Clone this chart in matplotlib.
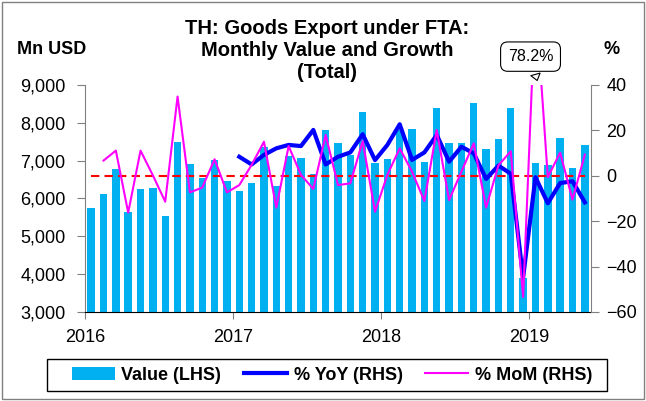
import numpy as np
import matplotlib
matplotlib.use("Agg")
import matplotlib.pyplot as plt
from matplotlib.patches import Rectangle

plt.rcParams['font.family'] = ['Liberation Sans', 'DejaVu Sans']

# Monthly data, Jan 2016 - May 2019
value_mn_usd = [5743, 6124, 6779, 5646, 6260, 6265, 5549, 7490, 6920, 6540, 7005, 6475,
                6190, 6416, 7355, 6319, 7115, 7062, 6640, 7805, 7462, 7160, 8274, 6929,
                7035, 7805, 7850, 6965, 8381, 7469, 7469, 8513, 7319, 7566, 8381, 3900,
                6947, 6894, 7602, 6814, 7425]
yoy_pct = [None] * 12 + [8.4, 5.0, 9.2, 12.1, 13.6, 13.1, 20.2, 5.0, 8.4, 10.3, 18.3, 6.9,
                         13.6, 22.7, 7.0, 10.3, 18.0, 6.2, 12.8, 9.9, -1.4, 4.5, 0.9, -44.8,
                         -0.6, -12.1, -3.2, -2.4, -11.7]
mom_pct = [None, 6.7, 11.1, -16.2, 11.1, 0.2, -11.4, 34.9, -7.3, -5.2, 7.3, -7.3,
           -4.1, 4.8, 15.0, -14.0, 13.1, 0.4, -5.8, 18.0, -4.1, -3.3, 15.3, -15.8,
           0.4, 12.1, 1.8, -11.1, 20.2, -10.7, 1.8, 14.3, -14.0, 4.6, 10.8, -53.4,
           78.2, -0.6, 10.2, -10.5, 9.3]
year_labels = ['2016', '2017', '2018', '2019']

n = len(value_mn_usd)
x = np.arange(n) + 0.5
yoy = np.array([np.nan if v is None else v for v in yoy_pct])
mom = np.array([np.nan if v is None else v for v in mom_pct])

W, H = 646, 401
fig = plt.figure(figsize=(W / 100, H / 100), dpi=100)
ax = fig.add_axes([85 / W, 1 - 312 / H, (591 - 85) / W, (312 - 85) / H])
ax2 = ax.twinx()

gray = '#808080'

# bars (LHS)
bars = ax.bar(x, value_mn_usd, width=0.6, color='#00B0F0', zorder=2)
ax.set_ylim(3000, 9000)
ax.set_xlim(0, 41)
ax.set_yticks(range(3000, 9001, 1000))
ax.set_yticklabels([f'{v:,}' for v in range(3000, 9001, 1000)])
ax.set_xticks([0, 12, 24, 36])
ax.set_xticklabels(year_labels)

# lines (RHS)
ax2.axhline(0, xmin=0.5 / 41, xmax=40.5 / 41, color='#FF0000', lw=1.5, ls=(0, (4, 2.5)), zorder=1)
l_yoy, = ax2.plot(x, yoy, color='#0000FF', lw=3, zorder=3)
l_mom, = ax2.plot(x, mom, color='#FF00FF', lw=1.5, zorder=4)
ax2.set_ylim(-60, 40)
ax2.set_yticks(range(-60, 41, 20))

ax.set_zorder(1)
ax2.set_zorder(2)
ax.patch.set_visible(False)

ax.tick_params(axis='y', labelsize=13, color=gray, length=6, pad=8)
ax.tick_params(axis='x', labelsize=13, color=gray, length=5, pad=7)
ax2.tick_params(axis='y', labelsize=13, color=gray, length=6, pad=5)
for a in (ax, ax2):
    a.spines['top'].set_visible(False)
ax.spines['left'].set_color(gray)
ax2.spines['right'].set_color(gray)
ax2.spines['left'].set_visible(False)
ax.spines['right'].set_visible(False)
ax2.spines['bottom'].set_visible(False)
ax.spines['bottom'].set_color('black')

# callout for the clipped MoM value
ax2.annotate('78.2%', xy=(36.7, 40.8), xytext=(36.1, 52.5), textcoords='data',
             ha='center', va='center', fontsize=11.5, annotation_clip=False,
             bbox=dict(boxstyle='round,pad=0.45', fc='white', ec='black', lw=0.8),
             arrowprops=dict(arrowstyle='wedge,tail_width=0.6,shrink_factor=0.5',
                             fc='white', ec='black', lw=0.8))

# titles
title_lines = ['TH: Goods Export under FTA:', 'Monthly Value and Growth', '(Total)']
for yy, line in zip([28, 50, 72], title_lines):
    fig.text(327 / W, 1 - yy / H, line, ha='center', va='center', fontsize=14.5, fontweight='bold')
fig.text(52 / W, 1 - 50 / H, 'Mn USD', ha='center', va='center', fontsize=13, fontweight='bold')
fig.text(612 / W, 1 - 50 / H, '%', ha='center', va='center', fontsize=13, fontweight='bold')

# legend
leg = fig.legend([bars, l_yoy, l_mom], ['Value (LHS)', '% YoY (RHS)', '% MoM (RHS)'],
                 loc='center', bbox_to_anchor=(332 / W, 1 - 375 / H), ncol=3, frameon=False,
                 prop={'weight': 'bold', 'size': 13}, handlelength=2.4, handletextpad=0.35,
                 columnspacing=1.25)
fig.patches.append(Rectangle((47 / W, 1 - 391 / H), 560 / W, 32 / H, transform=fig.transFigure,
                             fill=False, ec='black', lw=1))

# outer border
fig.patches.append(Rectangle((2 / W, 2 / H), 1 - 4 / W, 1 - 4 / H, transform=fig.transFigure,
                             fill=False, ec=gray, lw=1))

fig.savefig('out.png', dpi=100)
